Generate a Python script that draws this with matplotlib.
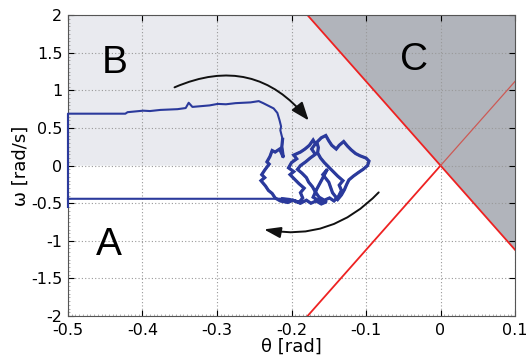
import numpy as np
import matplotlib.pyplot as plt

plt.rcParams['font.family'] = ['Liberation Sans', 'DejaVu Sans']

# Limites et droites de séparation omega = +/- K*theta
theta_lim = [-0.5, 0.1]
omega_lim = [-2, 2]
K = 11.2

x_ticks = [-0.5, -0.4, -0.3, -0.2, -0.1, 0, 0.1]
x_labels = ['-0.5', '-0.4', '-0.3', '-0.2', '-0.1', '0', '0.1']
y_ticks = [-2, -1.5, -1, -0.5, 0, 0.5, 1, 1.5, 2]
y_labels = ['-2', '-1.5', '-1', '-0.5', '0', '0.5', '1', '1.5', '2']

# Trajectoire : branche haute, puis pelote, puis retour bas
theta_traj = [-0.5, -0.5, -0.47, -0.44, -0.423, -0.420, -0.41, -0.399, -0.39, -0.376,
              -0.365, -0.353, -0.342, -0.338, -0.333, -0.322, -0.31, -0.299, -0.288,
              -0.275, -0.265, -0.255, -0.244, -0.238, -0.232, -0.224, -0.219, -0.216,
              -0.214, -0.215, -0.212, -0.213, -0.211,
              -0.216, -0.222, -0.226, -0.229, -0.233, -0.230, -0.236, -0.240, -0.236,
              -0.241, -0.235, -0.231, -0.226, -0.222, -0.215, -0.205, -0.198, -0.190,
              -0.185, -0.188, -0.183, -0.190, -0.196, -0.202, -0.197, -0.204, -0.200,
              -0.193, -0.197, -0.188, -0.182, -0.176, -0.171, -0.168, -0.173, -0.168,
              -0.175, -0.181, -0.188, -0.192, -0.186, -0.180, -0.177, -0.172, -0.168,
              -0.163, -0.156, -0.149, -0.143, -0.137, -0.133, -0.136, -0.131, -0.138,
              -0.144, -0.150, -0.156, -0.161, -0.165, -0.164, -0.166, -0.160, -0.154,
              -0.150, -0.146, -0.140, -0.136, -0.130, -0.125, -0.120, -0.114, -0.108,
              -0.100, -0.096, -0.098, -0.104, -0.110, -0.117, -0.123, -0.126, -0.129,
              -0.133, -0.138, -0.145, -0.150, -0.158, -0.152, -0.160, -0.166, -0.171,
              -0.163, -0.153, -0.160, -0.167, -0.174, -0.180, -0.188,
              -0.195, -0.203, -0.212, -0.222, -0.5]
omega_traj = [-0.55, 0.69, 0.69, 0.69, 0.69, 0.71, 0.72, 0.73, 0.725, 0.74,
              0.745, 0.75, 0.765, 0.835, 0.78, 0.79, 0.80, 0.82, 0.815,
              0.83, 0.835, 0.84, 0.857, 0.83, 0.80, 0.76, 0.70, 0.60,
              0.52, 0.47, 0.35, 0.25, 0.11,
              0.22, 0.18, 0.20, 0.12, 0.05, 0.02, -0.06, -0.12, -0.16,
              -0.20, -0.27, -0.33, -0.37, -0.43, -0.47, -0.49, -0.46, -0.49,
              -0.43, -0.36, -0.30, -0.24, -0.18, -0.12, -0.08, -0.03, 0.04,
              0.09, 0.14, 0.18, 0.22, 0.27, 0.34, 0.29, 0.22, 0.15,
              0.10, 0.05, 0.00, -0.05, -0.10, -0.16, -0.22, -0.28, -0.35,
              -0.42, -0.46, -0.43, -0.47, -0.41, -0.33, -0.26, -0.20, -0.14,
              -0.08, -0.02, 0.04, 0.10, 0.17, 0.24, 0.31, 0.37, 0.40,
              0.33, 0.27, 0.22, 0.27, 0.32, 0.26, 0.21, 0.16, 0.13,
              0.10, 0.06, 0.00, -0.05, -0.09, -0.14, -0.19, -0.25, -0.32,
              -0.39, -0.45, -0.36, -0.22, -0.12, -0.05, -0.20, -0.31, -0.42,
              -0.47, -0.48, -0.51, -0.47, -0.50, -0.46, -0.50,
              -0.47, -0.45, -0.44, -0.441, -0.441]

# début et fin de la pelote dans la trajectoire
i_pelote = 30
j_pelote = len(theta_traj) - 2

fig = plt.figure(figsize=(5.31, 3.6), dpi=100)
ax = fig.add_axes([0.128, 0.122, 0.842, 0.836])

# Zones B (gris clair) et C (gris foncé)
t_haut = -omega_lim[1] / K
t_droite = theta_lim[1]
ax.fill([theta_lim[0], 0, t_haut, theta_lim[0]], [0, 0, omega_lim[1], omega_lim[1]],
        color='#e9eaef', lw=0, zorder=0.5)
ax.fill([t_haut, t_droite, t_droite], [omega_lim[1], omega_lim[1], -K * t_droite],
        color='#b1b4bb', lw=0, zorder=0.5)

th = np.array(theta_lim)
ax.plot(th, -K * th, color='#ee2222', lw=1.3, zorder=2)
ax.plot([th[0], 0], [K * th[0], 0], color='#ee2222', lw=1.3, zorder=2)
ax.plot([0, th[1]], [0, K * th[1]], color='#cc5a55', lw=0.9, zorder=2)

ax.plot(theta_traj, omega_traj, color='#2b3a9c', lw=1.5, zorder=3, clip_on=False)
ax.plot(theta_traj[i_pelote:j_pelote], omega_traj[i_pelote:j_pelote], color='#2b3a9c',
        lw=2.3, zorder=3, solid_joinstyle='miter')

# Flèches
ax.annotate('', xy=(-0.177, 0.60), xytext=(-0.357, 1.04),
            arrowprops=dict(arrowstyle='-|>,head_length=1.1,head_width=0.42',
                            connectionstyle='arc3,rad=-0.38', color='#111111',
                            lw=1.4, mutation_scale=10, shrinkA=0, shrinkB=0), zorder=4)
ax.annotate('', xy=(-0.237, -0.848), xytext=(-0.083, -0.356),
            arrowprops=dict(arrowstyle='-|>,head_length=1.0,head_width=0.33',
                            connectionstyle='arc3,rad=-0.27', color='#111111',
                            lw=1.4, mutation_scale=10, shrinkA=0, shrinkB=0), zorder=4)

ax.text(-0.437, 1.37, 'B', fontsize=28, ha='center', va='center')
ax.text(-0.035, 1.40, 'C', fontsize=28, ha='center', va='center')
ax.text(-0.445, -1.06, 'A', fontsize=28, ha='center', va='center')

ax.set_xlim(theta_lim)
ax.set_ylim(omega_lim)
ax.set_xticks(x_ticks)
ax.set_xticklabels(x_labels, family='DejaVu Sans')
ax.set_yticks(y_ticks)
ax.set_yticklabels(y_labels, family='DejaVu Sans')
ax.set_xticks(np.arange(-0.5, 0.1001, 0.005), minor=True)
ax.set_yticks(np.arange(-2, 2.001, 0.05), minor=True)
ax.tick_params(which='major', direction='in', length=4, width=0.8, top=True, right=True,
               labelsize=11.5)
ax.tick_params(axis='x', which='major', pad=5)
ax.tick_params(axis='y', which='major', pad=4)
ax.tick_params(which='minor', direction='in', length=1.5, width=0.4, color='#777777',
               top=False, right=False)
ax.grid(True, which='major', color='#999999', linestyle=(0, (1, 2)), lw=0.8)
for s in ax.spines.values():
    s.set_linewidth(0.8)
    s.set_color('#555555')

ax.set_xlabel('θ [rad]', fontsize=13, family='DejaVu Sans')
ax.set_ylabel('ω [rad/s]', fontsize=13, family='DejaVu Sans')
ax.xaxis.set_label_coords(0.5, -0.072)
ax.yaxis.set_label_coords(-0.085, 0.5)

fig.savefig('out.png', dpi=100)
